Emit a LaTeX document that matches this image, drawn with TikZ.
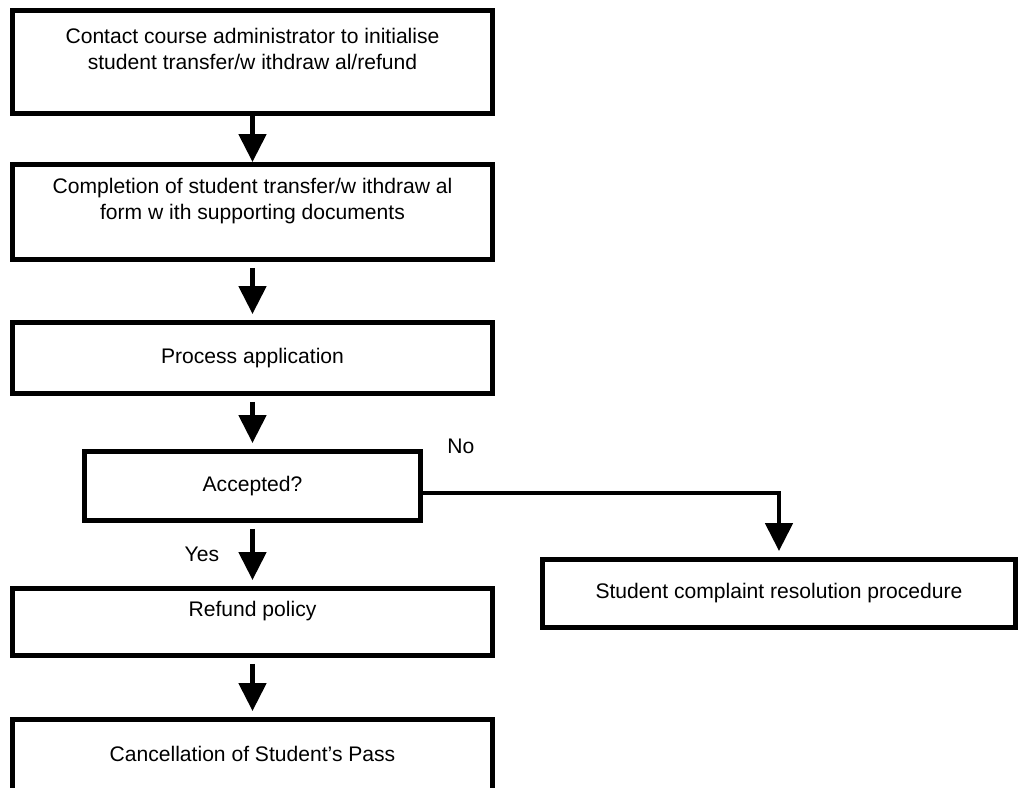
\documentclass[tikz,border=0pt]{standalone}
\usepackage{fontspec}
\setmainfont{Liberation Sans}
\usepackage{tikz}
\usetikzlibrary{arrows.meta, positioning}
\tikzstyle{process} = [rectangle, minimum width=12cm, minimum height=2.375cm, text centered, draw=black, line width=3.5pt]
\tikzstyle{decision} = [rectangle, minimum width=8.4cm, minimum height=1.725cm, text centered, draw=black, line width=3.5pt]
\tikzstyle{arrow} = [line width=3.5pt, -{Triangle[length=0.7cm, width=0.675cm]}, shorten <=0.15cm, shorten >=0.15cm]
\tikzstyle{answer} = [inner sep=0pt]
\tikzset{every node/.style={align=center}}

\begin{document}
\begin{tikzpicture}[node distance=3.6cm, font=\fontsize{15}{18.5}\selectfont]
    \useasboundingbox (0,0) rectangle (25.525,-19.675);
    \node (contact) [process, minimum height=2.575cm] at (6.3125,-1.55) {Contact course administrator to initialise\\student transfer/w ithdraw al/refund\\\mbox{}};
    \node (form) [process, below of=contact, yshift=-0.15cm] {Completion of student transfer/w ithdraw al\\form w ith supporting documents\\\mbox{}};
    \node (apply) [process, minimum height=1.775cm, below of=form, yshift=-0.05cm] {Process application};
    \node (accepted) [decision, below of=apply, yshift=0.4cm] {Accepted?};
    \node (refund) [process, minimum height=1.675cm, below of=accepted, yshift=0.2cm] {Refund policy\\\mbox{}};
    \node (cancel) [process, below of=refund, yshift=-0.025cm] {Cancellation of Student’s Pass\\\mbox{}};
    \node (complaint) [process, minimum width=11.825cm, minimum height=1.7cm, right of=refund, xshift=9.5625cm, yshift=0.7125cm] {Student complaint resolution procedure};

    \draw [arrow, shorten <=0pt, shorten >=0pt] (contact) -- (form);
    \draw [arrow] (form) -- (apply);
    \draw [arrow] (apply) -- (accepted);
    \draw [arrow] (accepted) -- node[answer, anchor=east, xshift=-0.775cm]{Yes} (refund);
    \draw [arrow] (refund) -- (cancel);
    \draw [arrow, shorten <=0pt] ([yshift=-0.175cm]accepted.east) -| node[answer, pos=0, anchor=south west, xshift=0.55cm, yshift=0.925cm]{No} (complaint.north);
\end{tikzpicture}
\end{document}
